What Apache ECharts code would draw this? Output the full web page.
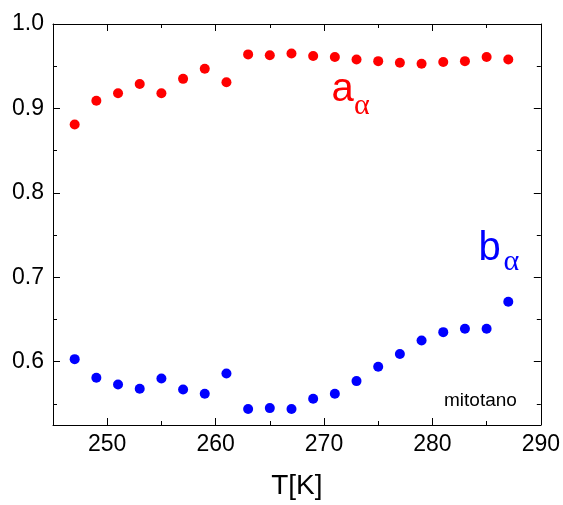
<!DOCTYPE html>
<html><head><meta charset="utf-8">
<script src="https://cdn.jsdelivr.net/npm/echarts@6/dist/echarts.min.js"></script>
<style>html,body{margin:0;padding:0;background:#fff}#c{width:563px;height:505px}</style>
</head><body><div id="c"></div>
<script>
// ---- data ----
const temperatures = [247,249,251,253,255,257,259,261,263,265,267,269,271,273,275,277,279,281,283,285,287];
const aAlpha = [0.881,0.909,0.918,0.929,0.918,0.935,0.947,0.931,0.964,0.963,0.965,0.962,0.961,0.958,0.956,0.954,0.953,0.955,0.956,0.961,0.958];
const bAlpha = [0.603,0.581,0.573,0.568,0.580,0.567,0.562,0.586,0.544,0.545,0.544,0.556,0.562,0.577,0.594,0.609,0.625,0.635,0.639,0.639,0.671];
const xMajorTicks = [250,260,270,280,290];
const xMinorTicks = [255,265,275,285];
const yMajorTicks = [0.6,0.7,0.8,0.9,1.0];
const yMinorTicks = [0.55,0.65,0.75,0.85,0.95];
const xName = 'T[K]';
const sampleLabel = 'mitotano';

const FONT = "'Liberation Sans', Arial, sans-serif";
const GREEK = "'Liberation Serif', 'DejaVu Serif', serif";
const X_MIN = 245, X_MAX = 290, Y_MIN = 0.525, Y_MAX = 1.0;

function xAxisDef(pos, ticks, len, showLine, showLabel, extra) {
  return Object.assign({
    type: 'value', gridIndex: 0, position: pos, min: X_MIN, max: X_MAX,
    axisLine: { show: showLine, onZero: false, lineStyle: { color: '#000', width: 1 } },
    axisTick: { show: true, inside: true, length: len, customValues: ticks, lineStyle: { color: '#000', width: 1 } },
    axisLabel: { show: showLabel, customValues: ticks, fontSize: 23, color: '#000', fontFamily: FONT, margin: 8 },
    splitLine: { show: false }, minorTick: { show: false }
  }, extra || {});
}
function yAxisDef(pos, ticks, len, showLine, showLabel) {
  return {
    type: 'value', gridIndex: 0, position: pos, min: Y_MIN, max: Y_MAX,
    axisLine: { show: showLine, onZero: false, lineStyle: { color: '#000', width: 1 } },
    axisTick: { show: true, inside: true, length: len, customValues: ticks, lineStyle: { color: '#000', width: 1 } },
    axisLabel: { show: showLabel, customValues: ticks, fontSize: 23, color: '#000', fontFamily: FONT, margin: 9,
      formatter: v => Number(v).toFixed(1) },
    splitLine: { show: false }, minorTick: { show: false }
  };
}

const chart = echarts.init(document.getElementById('c'), null, { renderer: 'canvas' });
const option = {
  animation: false,
  backgroundColor: '#fff',
  grid: { left: 53, right: 22, top: 24, bottom: 77, containLabel: false },
  xAxis: [
    xAxisDef('bottom', xMajorTicks, 7, true, true, {
      name: xName, nameLocation: 'middle', nameGap: 47,
      nameTextStyle: { fontSize: 28, color: '#000', fontFamily: FONT }
    }),
    xAxisDef('bottom', xMinorTicks, 4, false, false),
    xAxisDef('top', xMajorTicks, 7, true, false),
    xAxisDef('top', xMinorTicks, 4, false, false)
  ],
  yAxis: [
    yAxisDef('left', yMajorTicks, 7, true, true),
    yAxisDef('left', yMinorTicks, 4, false, false),
    yAxisDef('right', yMajorTicks, 7, true, false),
    yAxisDef('right', yMinorTicks, 4, false, false)
  ],
  series: [
    { type: 'scatter', name: 'a', xAxisIndex: 0, yAxisIndex: 0, symbol: 'circle', symbolSize: 10,
      itemStyle: { color: '#ff0000', opacity: 1 }, data: temperatures.map((t, i) => [t, aAlpha[i]]) },
    { type: 'scatter', name: 'b', xAxisIndex: 0, yAxisIndex: 0, symbol: 'circle', symbolSize: 10,
      itemStyle: { color: '#0000ff', opacity: 1 }, data: temperatures.map((t, i) => [t, bAlpha[i]]) }
  ],
  graphic: [
    { type: 'text', x: 331.5, y: 90, style: { text: 'a', fill: '#ff0000', font: '40px ' + FONT, textAlign: 'left', verticalAlign: 'middle' } },
    { type: 'text', x: 354, y: 106, style: { text: 'α', fill: '#ff0000', font: '30px ' + GREEK, textAlign: 'left', verticalAlign: 'middle' } },
    { type: 'text', x: 478.5, y: 248.5, style: { text: 'b', fill: '#0000ff', font: '40px ' + FONT, textAlign: 'left', verticalAlign: 'middle' } },
    { type: 'text', x: 503.5, y: 262, style: { text: 'α', fill: '#0000ff', font: '30px ' + GREEK, textAlign: 'left', verticalAlign: 'middle' } },
    { type: 'text', x: 444, y: 400.5, style: { text: sampleLabel, fill: '#000', font: '19px ' + FONT, textAlign: 'left', verticalAlign: 'middle' } }
  ]
};
chart.setOption(option);
</script>
</body></html>
